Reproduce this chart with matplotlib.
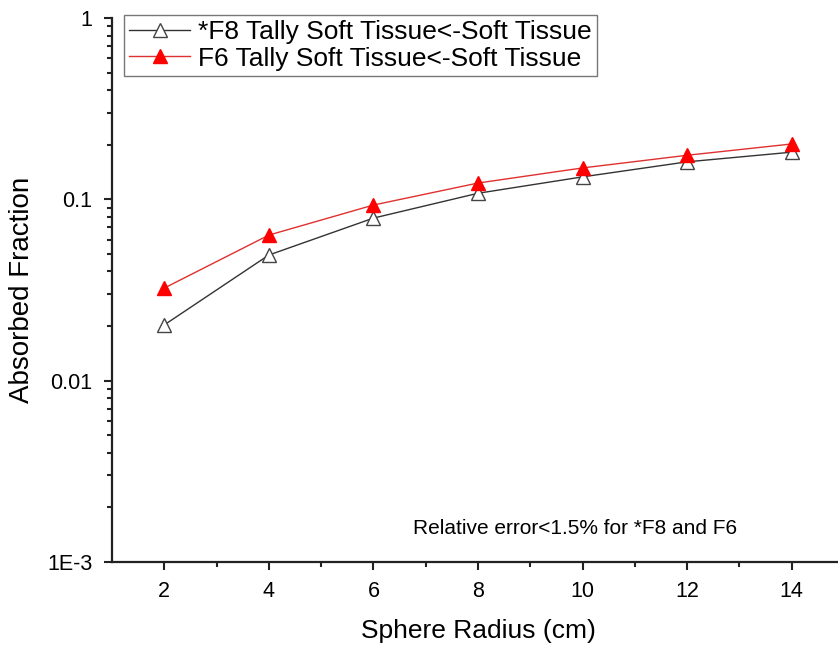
import matplotlib.pyplot as plt
from matplotlib.ticker import FixedLocator, FixedFormatter, NullFormatter

# Data
radius = [2, 4, 6, 8, 10, 12, 14]
f8_soft = [0.0203, 0.0493, 0.0788, 0.108, 0.133, 0.161, 0.182]
f6_soft = [0.0324, 0.0635, 0.093, 0.123, 0.149, 0.175, 0.202]

y_ticks = [1e-3, 1e-2, 1e-1, 1]
y_labels = ['1E-3', '0.01', '0.1', '1']
y_minor = [k * 10.0 ** e for e in (-3, -2, -1) for k in range(2, 10)]

plt.rcParams['font.family'] = ['Liberation Sans', 'DejaVu Sans']

fig = plt.figure(figsize=(8.38, 6.48), dpi=100)
ax = fig.add_axes([112 / 838, 86 / 648, 732 / 838, 544 / 648])

ax.plot(radius, f8_soft, color='#333333', lw=1.0, marker='^', ms=10.5,
        mfc='white', mec='#444444', mew=1.0,
        label='*F8 Tally Soft Tissue<-Soft Tissue')
ax.plot(radius, f6_soft, color='#e03030', lw=1.0, marker='^', ms=10.5,
        mfc='red', mec='red', mew=1.0,
        label='F6 Tally Soft Tissue<-Soft Tissue')

ax.set_yscale('log')
ax.set_ylim(1e-3, 1)
ax.set_xlim(1, 15)
ax.yaxis.set_major_locator(FixedLocator(y_ticks))
ax.yaxis.set_major_formatter(FixedFormatter(y_labels))
ax.yaxis.set_minor_locator(FixedLocator(y_minor))
ax.yaxis.set_minor_formatter(NullFormatter())
ax.set_xticks([2, 4, 6, 8, 10, 12, 14])
ax.set_xticks([3, 5, 7, 9, 11, 13], minor=True)

for s in ['top', 'right']:
    ax.spines[s].set_visible(False)
for s in ['left', 'bottom']:
    ax.spines[s].set_linewidth(1.6)
    ax.spines[s].set_color('#222222')

ax.tick_params(which='major', direction='out', length=6, width=1.5,
               labelsize=15.5, color='#222222', pad=8)
ax.tick_params(which='minor', direction='out', length=3.5, width=1.5,
               color='#222222')

ax.set_xlabel('Sphere Radius (cm)', fontsize=19, labelpad=12)
ax.set_ylabel('Absorbed Fraction', fontsize=20, labelpad=9)

ax.text(0.633, 0.0625, 'Relative error<1.5% for *F8 and F6', transform=ax.transAxes,
        fontsize=15, ha='center', va='center')

leg = ax.legend(loc='upper left', bbox_to_anchor=(12 / 732, 1.006), fontsize=19,
                frameon=True, fancybox=False, edgecolor='#555555',
                handlelength=2.3, handletextpad=0.3, borderpad=0.2,
                labelspacing=0.1, borderaxespad=0)
leg.get_frame().set_linewidth(1.0)

fig.savefig('out.png', dpi=100)
